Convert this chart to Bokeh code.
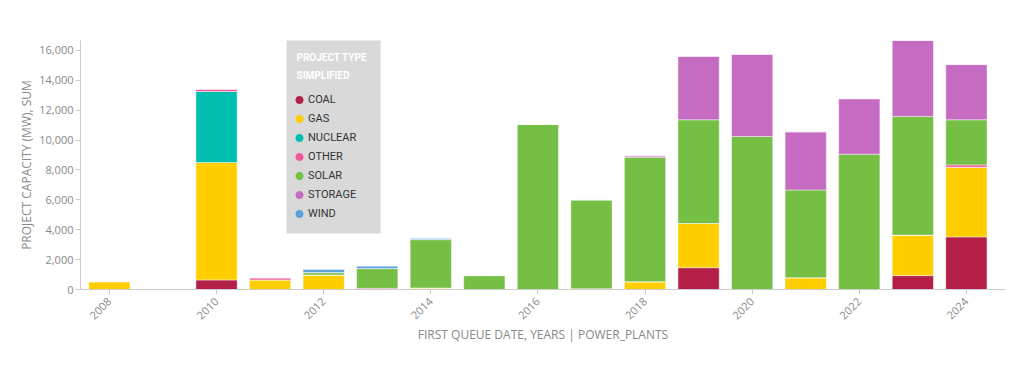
import math
from bokeh.plotting import figure
from bokeh.models import (ColumnDataSource, FixedTicker, NumeralTickFormatter, Range1d,
                          Legend, LegendItem, BoxAnnotation, Label)
from bokeh.embed import file_html
from bokeh.resources import INLINE

years = [2008, 2010, 2011, 2012, 2013, 2014, 2015, 2016, 2017, 2018, 2019, 2020, 2021, 2022, 2023, 2024]
coal = [0, 640, 0, 0, 0, 0, 0, 0, 0, 0, 1460, 0, 0, 0, 930, 3520]
gas = [530, 7860, 640, 970, 0, 100, 0, 0, 50, 520, 2955, 0, 790, 0, 2710, 4655]
nuclear = [0, 4750, 0, 0, 0, 0, 0, 0, 0, 0, 0, 0, 0, 0, 0, 0]
other = [0, 170, 150, 0, 80, 0, 0, 0, 0, 0, 0, 0, 0, 0, 0, 160]
solar = [0, 0, 0, 160, 1320, 3240, 930, 11040, 5950, 8326, 6940, 10235, 5870, 9050, 7940, 3020]
storage = [0, 0, 0, 0, 0, 0, 0, 0, 0, 95, 4250, 5500, 3890, 3715, 5080, 3695]
wind = [0, 0, 0, 200, 160, 70, 0, 0, 0, 0, 0, 0, 0, 0, 0, 0]

types = ["coal", "gas", "nuclear", "other", "solar", "storage", "wind"]
labels = ["COAL", "GAS", "NUCLEAR", "OTHER", "SOLAR", "STORAGE", "WIND"]
colors = ["#b41f47", "#ffce00", "#00bfb0", "#f1589b", "#74bf44", "#c56cc2", "#5aa0dc"]
legend_title = ["PROJECT TYPE", "SIMPLIFIED"]

source = ColumnDataSource(dict(year=years, coal=coal, gas=gas, nuclear=nuclear, other=other,
                               solar=solar, storage=storage, wind=wind))

p = figure(width=1016, height=345, output_backend="svg", toolbar_location=None,
           x_range=Range1d(2007.46, 2024.73), y_range=Range1d(0, 16660))
p.min_border_left = 80
p.min_border_right = 11
p.min_border_top = 40
p.min_border_bottom = 40
p.outline_line_color = None
p.xgrid.visible = False
p.ygrid.visible = False

p.vbar_stack(types, x="year", width=0.77, color=colors, source=source,
             line_color="white", line_alpha=0.45, line_width=1)

font = "Open Sans"
for ax in (p.xaxis[0], p.yaxis[0]):
    ax.axis_line_color = "#cccccc"
    ax.major_tick_line_color = "#cccccc"
    ax.minor_tick_line_color = None
    ax.major_tick_out = 5
    ax.major_tick_in = 0
    ax.major_label_text_color = "#888888"
    ax.major_label_text_font = font
    ax.major_label_text_font_size = "11px"
    ax.axis_label_text_color = "#888888"
    ax.axis_label_text_font = font
    ax.axis_label_text_font_size = "12px"
    ax.axis_label_text_font_style = "normal"

p.xaxis.ticker = FixedTicker(ticks=list(range(2008, 2025, 2)))
p.xaxis.major_label_orientation = math.pi / 4
p.xaxis.axis_label = "FIRST QUEUE DATE, YEARS | POWER_PLANTS"
p.xaxis.axis_label_standoff = 0
p.yaxis.ticker = FixedTicker(ticks=list(range(0, 16001, 2000)))
p.yaxis.formatter = NumeralTickFormatter(format="0,0")
p.yaxis.axis_label = "PROJECT CAPACITY (MW), SUM"
p.yaxis.major_label_standoff = 2
p.yaxis.axis_label_standoff = 1

# legend background box (screen units, relative to the frame)
box = BoxAnnotation(left=206, right=300, bottom=56, top=251,
                    left_units="screen", right_units="screen",
                    bottom_units="screen", top_units="screen",
                    fill_color="#d9d9d9", fill_alpha=1.0, line_alpha=0,
                    level="underlay")
p.add_layout(box)

for i, t in enumerate(legend_title):
    p.add_layout(Label(x=216, y=232 - 18 * i, x_units="screen", y_units="screen", text=t,
                       text_font="Roboto", text_font_size="10px", text_font_style="bold",
                       text_color="white", text_baseline="middle", text_align="left"))

items = []
for lab, col in zip(labels, colors):
    r = p.scatter(x=[1990], y=[-1000], marker="circle", size=8, color=col)
    items.append(LegendItem(label=lab, renderers=[r]))

legend = Legend(items=items, location=(210, 66),
                background_fill_alpha=0.0, border_line_color=None,
                label_text_font="Roboto", label_text_font_size="11px",
                label_text_color="#333333",
                glyph_width=18, glyph_height=19, label_height=19,
                spacing=0, padding=0, margin=0, label_standoff=0)
p.add_layout(legend, "center")

open("out.html", "w").write(file_html(p, INLINE))
